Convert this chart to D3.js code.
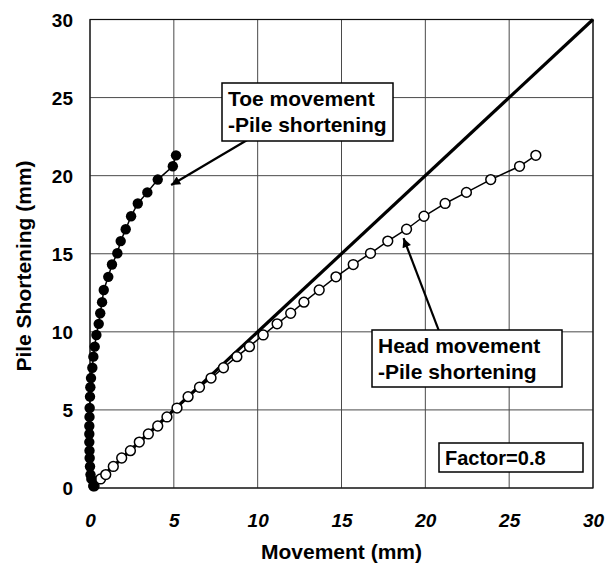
<!DOCTYPE html>
<html>
<head>
<meta charset="utf-8">
<script src="https://cdn.jsdelivr.net/npm/d3@7"></script>
<style>
  html, body { margin: 0; padding: 0; background: #fff; }
  svg { display: block; font-family: "Liberation Sans", Arial, Helvetica, sans-serif; }
</style>
</head>
<body>
<svg id="chart" width="616" height="568"></svg>
<script>
// Pile shortening (mm), shared by both measured series
const shortening = [0.13, 0.58, 0.86, 1.38, 1.92, 2.39, 2.94, 3.46, 3.97, 4.55, 5.12,
  5.85, 6.45, 7.04, 7.70, 8.41, 9.05, 9.80, 10.51, 11.19, 11.90, 12.68, 13.52,
  14.31, 15.03, 15.81, 16.57, 17.40, 18.22, 18.93, 19.75, 20.60, 21.30];
// Toe movement (mm)
const toeMovement = [0.20, 0.08, 0.03, 0.00, -0.02, -0.03, -0.04, -0.04, -0.04, -0.03, -0.02,
  0.00, 0.02, 0.06, 0.14, 0.20, 0.28, 0.38, 0.52, 0.61, 0.72, 0.82, 1.09,
  1.31, 1.63, 1.83, 2.13, 2.45, 2.85, 3.42, 4.04, 4.94, 5.13];
// Head movement (mm)
const headMovement = [0.24, 0.63, 0.94, 1.39, 1.89, 2.41, 2.94, 3.48, 4.04, 4.59, 5.19,
  5.85, 6.53, 7.22, 7.96, 8.76, 9.51, 10.33, 11.16, 11.97, 12.76, 13.67, 14.67,
  15.70, 16.73, 17.76, 18.88, 19.92, 21.18, 22.45, 23.90, 25.62, 26.59];
// 1:1 reference line end points
const equalityLine = [[0, 0], [30, 30]];
const xTicks = [0, 5, 10, 15, 20, 25, 30];
const yTicks = [0, 5, 10, 15, 20, 25, 30];
const factorLabel = "Factor=0.8";

const svg = d3.select("#chart");
const x = d3.scaleLinear().domain([0, 30]).range([90, 593]);
const y = d3.scaleLinear().domain([0, 30]).range([488, 19.5]);

const toe = shortening.map((s, i) => [toeMovement[i], s]);
const head = shortening.map((s, i) => [headMovement[i], s]);

// grid
const grid = svg.append("g").attr("stroke", "#4a4a4a").attr("stroke-width", 1);
grid.selectAll("line.v").data(xTicks).join("line")
  .attr("x1", d => x(d)).attr("x2", d => x(d))
  .attr("y1", y(0)).attr("y2", y(30));
grid.selectAll("line.h").data(yTicks).join("line")
  .attr("y1", d => y(d)).attr("y2", d => y(d))
  .attr("x1", x(0)).attr("x2", x(30));
svg.append("rect")
  .attr("x", x(0)).attr("y", y(30))
  .attr("width", x(30) - x(0)).attr("height", y(0) - y(30))
  .attr("fill", "none").attr("stroke", "#111").attr("stroke-width", 1.2);

// axes (labels only)
const xAxis = d3.axisBottom(x).tickValues(xTicks).tickSize(0).tickPadding(0).tickFormat(d3.format("d"));
const gx = svg.append("g").attr("transform", `translate(0,${y(0)})`).call(xAxis);
gx.select(".domain").remove();
gx.selectAll("text")
  .attr("y", 39).attr("dy", null)
  .attr("font-size", 19).attr("font-weight", "bold").attr("font-style", "italic")
  .attr("fill", "#000");

const yAxis = d3.axisLeft(y).tickValues(yTicks).tickSize(0).tickPadding(0).tickFormat(d3.format("d"));
const gy = svg.append("g").attr("transform", `translate(${x(0) - 17},0)`).call(yAxis);
gy.select(".domain").remove();
gy.selectAll("text")
  .attr("x", 0).attr("dy", "0.36em")
  .attr("font-size", 19).attr("font-weight", "bold")
  .attr("fill", "#000");

svg.append("text")
  .attr("x", (x(0) + x(30)) / 2).attr("y", 559)
  .attr("text-anchor", "middle")
  .attr("font-size", 21).attr("font-weight", "bold")
  .text("Movement (mm)");
svg.append("text")
  .attr("transform", `translate(31,266) rotate(-90)`)
  .attr("text-anchor", "middle")
  .attr("font-size", 21).attr("font-weight", "bold")
  .text("Pile Shortening (mm)");

const line = d3.line().x(d => x(d[0])).y(d => y(d[1]));

// 1:1 line
svg.append("path").datum(equalityLine)
  .attr("d", line).attr("fill", "none")
  .attr("stroke", "#000").attr("stroke-width", 3.2);

// head movement series
svg.append("path").datum(head)
  .attr("d", line).attr("fill", "none")
  .attr("stroke", "#000").attr("stroke-width", 1.5);
svg.append("g").selectAll("circle").data(head).join("circle")
  .attr("cx", d => x(d[0])).attr("cy", d => y(d[1])).attr("r", 4.9)
  .attr("fill", "#fff").attr("stroke", "#000").attr("stroke-width", 1.5);

// toe movement series
svg.append("path").datum(toe)
  .attr("d", line).attr("fill", "none")
  .attr("stroke", "#000").attr("stroke-width", 1.5);
svg.append("g").selectAll("circle").data(toe).join("circle")
  .attr("cx", d => x(d[0])).attr("cy", d => y(d[1])).attr("r", 5.2)
  .attr("fill", "#000");

// arrow marker
svg.append("defs").append("marker")
  .attr("id", "arrow").attr("viewBox", "0 0 10 10")
  .attr("refX", 10).attr("refY", 5)
  .attr("markerWidth", 12).attr("markerHeight", 9)
  .attr("markerUnits", "userSpaceOnUse")
  .attr("orient", "auto")
  .append("path").attr("d", "M0,0 L10,5 L0,10 Z").attr("fill", "#000");

function callout(box, lines, from, to) {
  svg.append("line")
    .attr("x1", x(from[0])).attr("y1", y(from[1]))
    .attr("x2", x(to[0])).attr("y2", y(to[1]))
    .attr("stroke", "#000").attr("stroke-width", 2.2)
    .attr("marker-end", "url(#arrow)");
  svg.append("rect")
    .attr("x", box.x).attr("y", box.y).attr("width", box.w).attr("height", box.h)
    .attr("fill", "#fff").attr("stroke", "#000").attr("stroke-width", 1.5);
  lines.forEach((t, i) => {
    svg.append("text")
      .attr("x", box.x + 6).attr("y", box.y + 23 + i * 26)
      .attr("font-size", 21).attr("font-weight", "bold")
      .text(t);
  });
}

callout({ x: 222, y: 83, w: 171, h: 58 },
  ["Toe movement", "-Pile shortening"], [9.4, 22.3], [4.84, 19.4]);
callout({ x: 372, y: 330, w: 190, h: 57 },
  ["Head movement", "-Pile shortening"], [20.8, 10.1], [18.7, 16.0]);

// factor label
svg.append("rect")
  .attr("x", 439).attr("y", 443).attr("width", 144).attr("height", 29)
  .attr("fill", "#fff").attr("stroke", "#000").attr("stroke-width", 1.5);
svg.append("text")
  .attr("x", 445).attr("y", 465)
  .attr("font-size", 20).attr("font-weight", "bold")
  .text(factorLabel);
</script>
</body>
</html>
